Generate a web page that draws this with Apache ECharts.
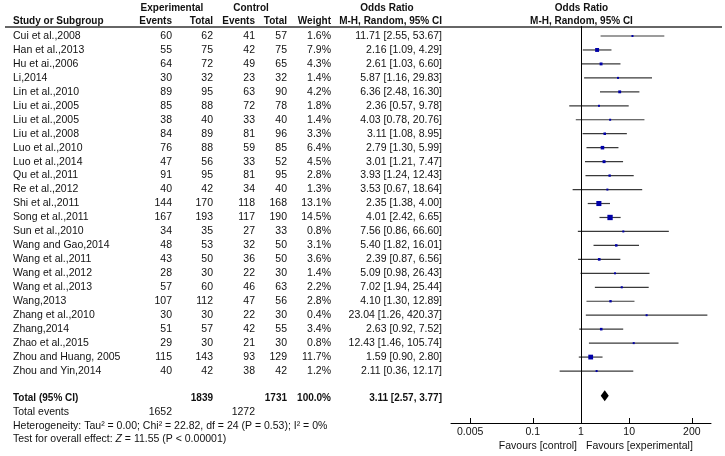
<!DOCTYPE html>
<html><head><meta charset="utf-8">
<script src="https://cdn.jsdelivr.net/npm/echarts@6/dist/echarts.min.js"></script>
<style>html,body{margin:0;padding:0;background:#fff}#c{width:725px;height:456px}</style>
</head><body><div id="c"></div>
<script>
const studies = ["Cui et al.,2008","Han et al.,2013","Hu et ai.,2006","Li,2014","Lin et al.,2010","Liu et ai.,2005","Liu et al.,2005","Liu et al.,2008","Luo et al.,2010","Luo et al.,2014","Qu et al.,2011","Re et al.,2012","Shi et al.,2011","Song et al.,2011","Sun et al.,2010","Wang and Gao,2014","Wang et al.,2011","Wang et al.,2012","Wang et al.,2013","Wang,2013","Zhang et al.,2010","Zhang,2014","Zhao et al.,2015","Zhou and Huang, 2005","Zhou and Yin,2014"];
const expEvents = [60,55,64,30,89,85,38,84,76,47,91,40,144,167,34,48,43,28,57,107,30,51,29,115,40];
const expTotal = [62,75,72,32,95,88,40,89,88,56,95,42,170,193,35,53,50,30,60,112,30,57,30,143,42];
const ctrlEvents = [41,42,49,23,63,72,33,81,59,33,81,34,118,117,27,32,36,22,46,47,22,42,21,93,38];
const ctrlTotal = [57,75,65,32,90,78,40,96,85,52,95,40,168,190,33,50,50,30,63,56,30,55,30,129,42];
const weights = [1.6,7.9,4.3,1.4,4.2,1.8,1.4,3.3,6.4,4.5,2.8,1.3,13.1,14.5,0.8,3.1,3.6,1.4,2.2,2.8,0.4,3.4,0.8,11.7,1.2];
const orEst = [11.71,2.16,2.61,5.87,6.36,2.36,4.03,3.11,2.79,3.01,3.93,3.53,2.35,4.01,7.56,5.40,2.39,5.09,7.02,4.10,23.04,2.63,12.43,1.59,2.11];
const orLow = [2.55,1.09,1.03,1.16,2.48,0.57,0.78,1.08,1.30,1.21,1.24,0.67,1.38,2.42,0.86,1.82,0.87,0.98,1.94,1.30,1.26,0.92,1.46,0.90,0.36];
const orHigh = [53.67,4.29,6.60,29.83,16.30,9.78,20.76,8.95,5.99,7.47,12.43,18.64,4.00,6.65,66.60,16.01,6.56,26.43,25.44,12.89,420.37,7.52,105.74,2.80,12.17];
const totalExp = 1839, totalCtrl = 1731, totalWeight = 100.0;
const totalEventsExp = 1652, totalEventsCtrl = 1272;
const pooledOR = [3.11, 2.57, 3.77];
const axisTickValues = [0.005, 0.1, 1, 10, 200];
const heterogeneityText = "Heterogeneity: Tau\u00b2 = 0.00; Chi\u00b2 = 22.82, df = 24 (P = 0.53); I\u00b2 = 0%";
const overallText = ["Test for overall effect: ", "Z", " = 11.55 (P < 0.00001)"];

// layout
const FONT = '10.5px "Liberation Sans", Arial, sans-serif';
const BFONT = 'bold 10px "Liberation Sans", Arial, sans-serif';
const COL = {name: 13, ee: 172, et: 213, ce: 255, ct: 287, w: 331, or: 442};
const TXT = '#111';
const rowStep = 13.96, row0 = 36, gridTop = 26, gridBottom = 423;
const totalRow = 25.95;

const fmt2 = v => v.toFixed(2);
const orText = (e, l, h) => fmt2(e) + ' [' + fmt2(l) + ', ' + fmt2(h) + ']';

function txt(text, x, y, align, font) {
  return {type: 'text', silent: true, style: {text: String(text), x: x, y: y, align: align, verticalAlign: 'middle', font: font || FONT, fill: TXT}};
}

const rowData = studies.map((s, i) => [i, orEst[i], orLow[i], orHigh[i], weights[i]]);

const chart = echarts.init(document.getElementById('c'), null, {renderer: 'canvas'});
chart.setOption({
  animation: false,
  grid: {left: 451, right: 14, top: gridTop, bottom: 456 - gridBottom, containLabel: false},
  xAxis: {
    type: 'log', logBase: 10, min: 0.002, max: 500,
    axisLine: {show: true, onZero: false, lineStyle: {color: '#000', width: 1}},
    axisTick: {show: true, inside: true, length: 5, customValues: axisTickValues, lineStyle: {color: '#000'}},
    axisLabel: {show: true, customValues: axisTickValues, margin: 4, color: TXT, fontFamily: '"Liberation Sans", Arial, sans-serif', fontSize: 10.5,
      formatter: v => String(+(+v).toPrecision(3))},
    splitLine: {show: false}, minorTick: {show: false}
  },
  yAxis: {type: 'value', inverse: true, show: false,
    min: (gridTop - row0) / rowStep, max: (gridBottom - row0) / rowStep},
  series: [
    {
      type: 'custom', clip: false, silent: true,
      data: rowData,
      encode: {x: [1, 2, 3], y: 0},
      renderItem: function (params, api) {
        const i = api.value(0);
        const p = api.coord([api.value(1), i]);
        const l = api.coord([api.value(2), i]);
        const h = api.coord([api.value(3), i]);
        const w = api.value(4);
        const s = Math.max(2, Math.sqrt(w) * 1.4);
        const y = p[1];
        const k = params.dataIndex;
        return {type: 'group', children: [
          {type: 'line', shape: {x1: l[0], y1: y, x2: h[0], y2: y}, style: {stroke: '#3a3a3a', lineWidth: 1.2}},
          {type: 'rect', shape: {x: p[0] - s / 2, y: y - s / 2, width: s, height: s}, style: {fill: '#0000a8'}},
          txt(studies[k], COL.name, y, 'left'),
          txt(expEvents[k], COL.ee, y, 'right'),
          txt(expTotal[k], COL.et, y, 'right'),
          txt(ctrlEvents[k], COL.ce, y, 'right'),
          txt(ctrlTotal[k], COL.ct, y, 'right'),
          txt(weights[k].toFixed(1) + '%', COL.w, y, 'right'),
          txt(orText(orEst[k], orLow[k], orHigh[k]), COL.or, y, 'right')
        ]};
      },
      markLine: {
        silent: true, symbol: 'none', label: {show: false},
        lineStyle: {color: '#000', width: 1, type: 'solid'},
        data: [{xAxis: 1}]
      }
    },
    {
      type: 'custom', clip: false, silent: true,
      data: [[totalRow, pooledOR[0], pooledOR[1], pooledOR[2]]],
      encode: {x: [1, 2, 3], y: 0},
      renderItem: function (params, api) {
        const i = api.value(0);
        const p = api.coord([api.value(1), i]);
        const l = api.coord([api.value(2), i]);
        const h = api.coord([api.value(3), i]);
        const y = p[1] - 2.5;
        const hh = 5.5;
        return {type: 'group', children: [
          {type: 'polygon', shape: {points: [[l[0], y], [p[0], y - hh], [h[0], y], [p[0], y + hh]]}, style: {fill: '#000'}},
          txt('Total (95% CI)', COL.name, p[1], 'left', BFONT),
          txt(totalExp, COL.et, p[1], 'right', BFONT),
          txt(totalCtrl, COL.ct, p[1], 'right', BFONT),
          txt(totalWeight.toFixed(1) + '%', COL.w, p[1], 'right', BFONT),
          txt(orText(pooledOR[0], pooledOR[1], pooledOR[2]), COL.or, p[1], 'right', BFONT)
        ]};
      }
    }
  ],
  graphic: [
    {type: 'line', shape: {x1: 5, y1: 27, x2: 722, y2: 27}, style: {stroke: '#333', lineWidth: 1.3}, silent: true},
    txt('Experimental', 172, 8, 'center', BFONT),
    txt('Control', 251, 8, 'center', BFONT),
    txt('Odds Ratio', 387, 8, 'center', BFONT),
    txt('Odds Ratio', 581.5, 8, 'center', BFONT),
    txt('Study or Subgroup', COL.name, 21, 'left', BFONT),
    txt('Events', COL.ee, 21, 'right', BFONT),
    txt('Total', COL.et, 21, 'right', BFONT),
    txt('Events', COL.ce, 21, 'right', BFONT),
    txt('Total', COL.ct, 21, 'right', BFONT),
    txt('Weight', COL.w, 21, 'right', BFONT),
    txt('M-H, Random, 95% CI', COL.or, 21, 'right', BFONT),
    txt('M-H, Random, 95% CI', 581.5, 21, 'center', BFONT),
    txt('Total events', COL.name, 412, 'left'),
    txt(totalEventsExp, COL.ee, 412, 'right'),
    txt(totalEventsCtrl, COL.ce, 412, 'right'),
    txt(heterogeneityText, COL.name, 426, 'left'),
    {type: 'text', silent: true, style: {
      text: '{a|' + overallText[0] + '}{b|' + overallText[1] + '}{a|' + overallText[2] + '}',
      x: COL.name, y: 439, verticalAlign: 'middle', align: 'left',
      rich: {a: {font: FONT, fill: TXT}, b: {font: 'italic ' + FONT, fill: TXT}}}},
    txt('Favours [control]', 577, 446, 'right'),
    txt('Favours [experimental]', 586, 446, 'left')
  ]
});
</script></body></html>
